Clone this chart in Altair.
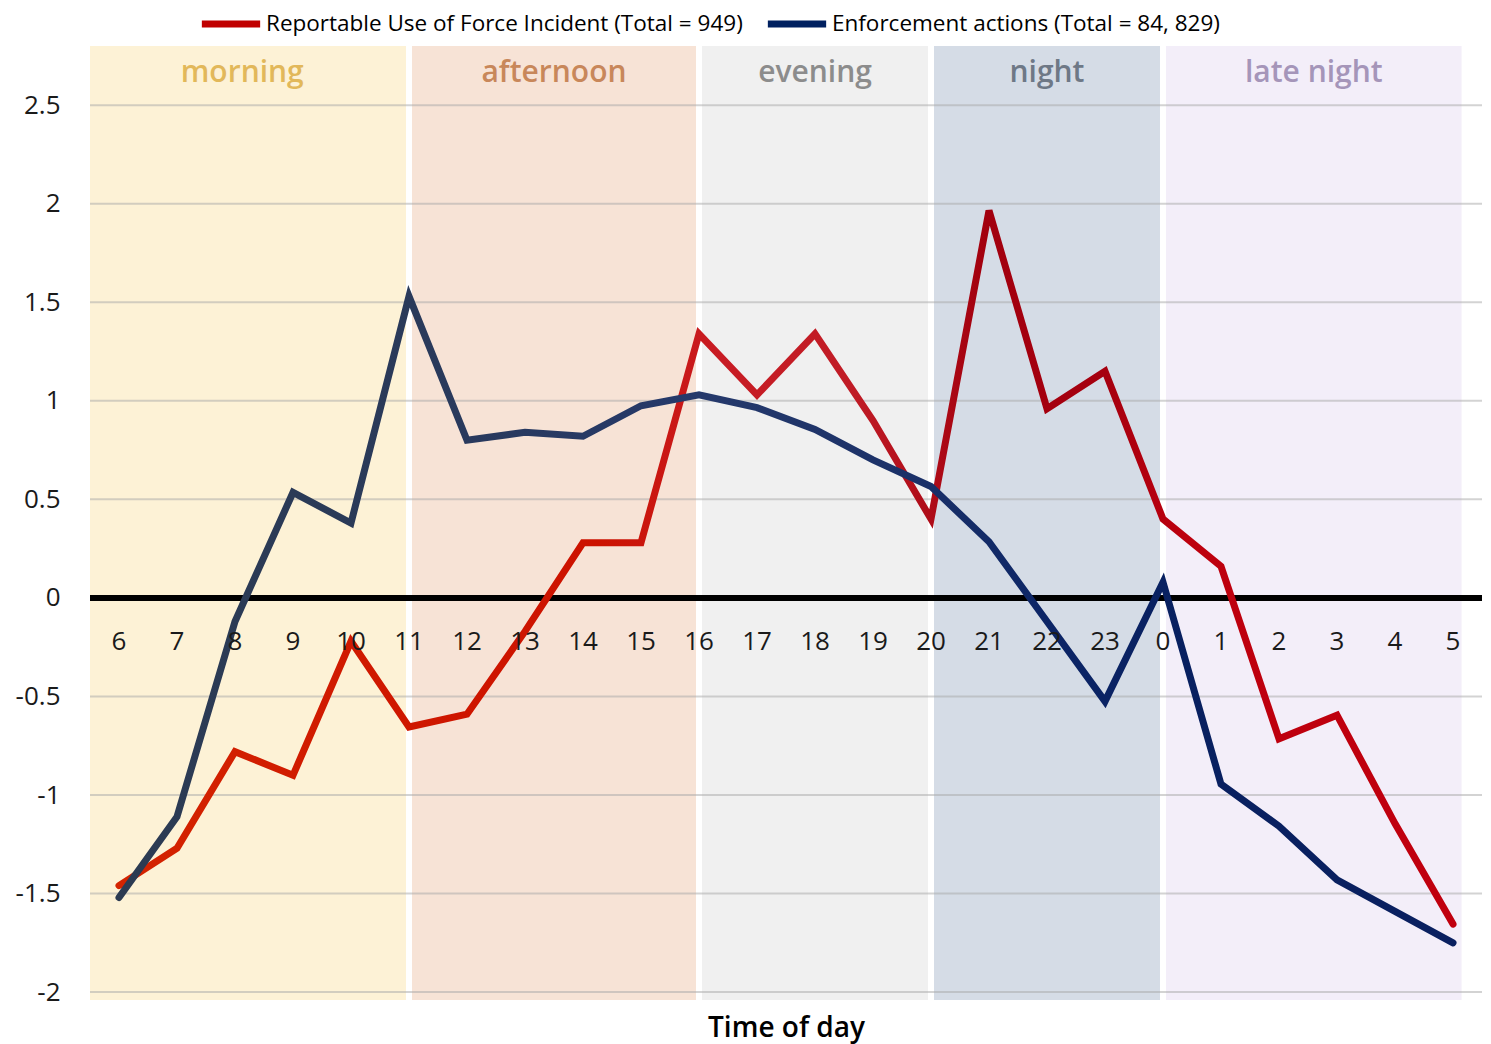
import altair as alt
import pandas as pd

# ---------------- data ----------------
hours = [6, 7, 8, 9, 10, 11, 12, 13, 14, 15, 16, 17, 18, 19, 20, 21, 22, 23, 0, 1, 2, 3, 4, 5]
force = [-1.46, -1.27, -0.78, -0.90, -0.22, -0.655, -0.59, -0.17, 0.28, 0.28, 1.34, 1.03, 1.34,
         0.90, 0.40, 1.965, 0.96, 1.15, 0.40, 0.16, -0.715, -0.595, -1.145, -1.655]
enforcement = [-1.52, -1.11, -0.12, 0.535, 0.38, 1.53, 0.80, 0.84, 0.82, 0.975, 1.03, 0.965, 0.855,
               0.70, 0.565, 0.285, -0.12, -0.525, 0.08, -0.945, -1.158, -1.43, -1.59, -1.75]
series_names = ["Reportable Use of Force Incident (Total = 949)",
                "Enforcement actions (Total = 84, 829)"]
series_colors = ["#c00000", "#002060"]
ytick_values = [-2, -1.5, -1, -0.5, 0, 0.5, 1, 1.5, 2, 2.5]

band_names = ["morning", "afternoon", "evening", "night", "late night"]
band_start = [-0.75, 5, 10, 14, 18]
band_end = [5, 10, 14, 18, 23.2]
band_fill = ["#fdf2d6", "#f7e3d6", "#f0f0f0", "#d5dce6", "#f3eef9"]
band_text = ["#e2b85a", "#c8875a", "#8c8c8c", "#6e7886", "#a595b9"]

FONT = "Open Sans"
W, H = 1392, 954

# ---------------- tables ----------------
pos = list(range(len(hours)))
df_force = pd.DataFrame({"pos": pos, "hour": hours, "value": force})
df_enf = pd.DataFrame({"pos": pos, "hour": hours, "value": enforcement})
df_bands = pd.DataFrame({"name": band_names, "start": band_start, "end": band_end})
df_grid = pd.DataFrame({"v": ytick_values})
df_legend = pd.DataFrame({"series": series_names, "pos": [0, 0], "value": [0, 0]})

xscale = alt.Scale(domain=[-0.5, 23.5], nice=False, zero=False)
yscale = alt.Scale(domain=[-2.04, 2.8], nice=False, zero=False)

xaxis = alt.Axis(labels=False, ticks=False, domain=False, grid=False, title="Time of day",
                 titleFont=FONT, titleFontSize=28, titleFontWeight=600, titleColor="#000000",
                 titlePadding=14)
yaxis = alt.Axis(values=ytick_values, labelExpr="toString(datum.value)", grid=False, ticks=False,
                 domain=False, labelFont=FONT, labelFontSize=26, labelColor="#1a1a1a",
                 labelPadding=30, title=None)

bands = alt.Chart(df_bands).mark_rect(xOffset=3, x2Offset=-3, clip=True).encode(
    x=alt.X("start:Q", scale=xscale, axis=xaxis),
    x2="end:Q",
    fill=alt.Fill("name:N", scale=alt.Scale(domain=band_names, range=band_fill), legend=None),
)

band_labels = alt.Chart(df_bands).transform_calculate(
    mid="(max(datum.start, -0.5) + datum.end) / 2 + (datum.start < -0.5 ? -0.125 : 0)"
).mark_text(font=FONT, fontSize=30, fontWeight=600, baseline="alphabetic").encode(
    x=alt.X("mid:Q", scale=xscale),
    y=alt.value(36),
    text="name:N",
    color=alt.Color("name:N", scale=alt.Scale(domain=band_names, range=band_text), legend=None),
)

grid = alt.Chart(df_grid).mark_rule(color="#a8a8a8", opacity=0.5, strokeWidth=2).encode(
    y=alt.Y("v:Q", scale=yscale, axis=yaxis)
)

zero = alt.Chart(df_grid).mark_rule(color="#000000", opacity=0.88, strokeWidth=6).encode(
    y=alt.datum(0)
)

red_grad = alt.Gradient(
    gradient="linear", x1=0, x2=1, y1=0, y2=0,
    stops=[
        alt.GradientStop(offset=0.0, color="#d42400"),
        alt.GradientStop(offset=0.2, color="#cf1800"),
        alt.GradientStop(offset=0.36, color="#cc1200"),
        alt.GradientStop(offset=0.45, color="#c81c24"),
        alt.GradientStop(offset=0.55, color="#c01c26"),
        alt.GradientStop(offset=0.65, color="#a2000e"),
        alt.GradientStop(offset=0.74, color="#a6000f"),
        alt.GradientStop(offset=0.8, color="#bd000e"),
        alt.GradientStop(offset=1.0, color="#c0000e"),
    ],
)
blue_grad = alt.Gradient(
    gradient="linear", x1=0, x2=1, y1=0, y2=0,
    stops=[
        alt.GradientStop(offset=0.0, color="#2c3b52"),
        alt.GradientStop(offset=0.22, color="#2a3a5a"),
        alt.GradientStop(offset=0.44, color="#25396b"),
        alt.GradientStop(offset=0.6, color="#1a3068"),
        alt.GradientStop(offset=0.7, color="#0c2566"),
        alt.GradientStop(offset=0.8, color="#082060"),
        alt.GradientStop(offset=1.0, color="#0a2060"),
    ],
)

line_force = alt.Chart(df_force).mark_line(
    color=red_grad, strokeWidth=7, strokeCap="round", strokeJoin="miter"
).encode(x=alt.X("pos:Q", scale=xscale), y=alt.Y("value:Q", scale=yscale))

line_enf = alt.Chart(df_enf).mark_line(
    color=blue_grad, strokeWidth=7, strokeCap="round", strokeJoin="miter"
).encode(x=alt.X("pos:Q", scale=xscale), y=alt.Y("value:Q", scale=yscale))

legend_layer = alt.Chart(df_legend).mark_point(opacity=0, filled=False).encode(
    x=alt.X("pos:Q", scale=xscale),
    y=alt.Y("value:Q", scale=yscale),
    stroke=alt.Stroke(
        "series:N",
        scale=alt.Scale(domain=series_names, range=series_colors),
        legend=alt.Legend(
            orient="none", legendX=108, legendY=-55, direction="horizontal", title=None,
            symbolType="stroke", symbolSize=3400, symbolStrokeWidth=7, symbolOpacity=1,
            labelFont=FONT, labelFontSize=22.5, labelColor="#000000", labelOffset=2,
            columnPadding=10, labelLimit=800,
        ),
    ),
)

tick_labels = alt.Chart(df_force).mark_text(
    font=FONT, fontSize=26, color="#1a1a1a", baseline="middle", dy=44
).encode(
    x=alt.X("pos:Q", scale=xscale),
    y=alt.datum(0),
    text="hour:N",
)

chart = alt.layer(
    bands, grid, zero, line_force, line_enf, legend_layer, tick_labels, band_labels
).resolve_scale(color="independent", fill="independent").properties(
    width=W, height=H,
    autosize=alt.AutoSizeParams(type="none"),
    padding={"left": 82, "top": 38, "right": 0, "bottom": 44},
).configure_view(stroke=None)

chart.save("out.html", embed_options={"renderer": "svg", "actions": False})
